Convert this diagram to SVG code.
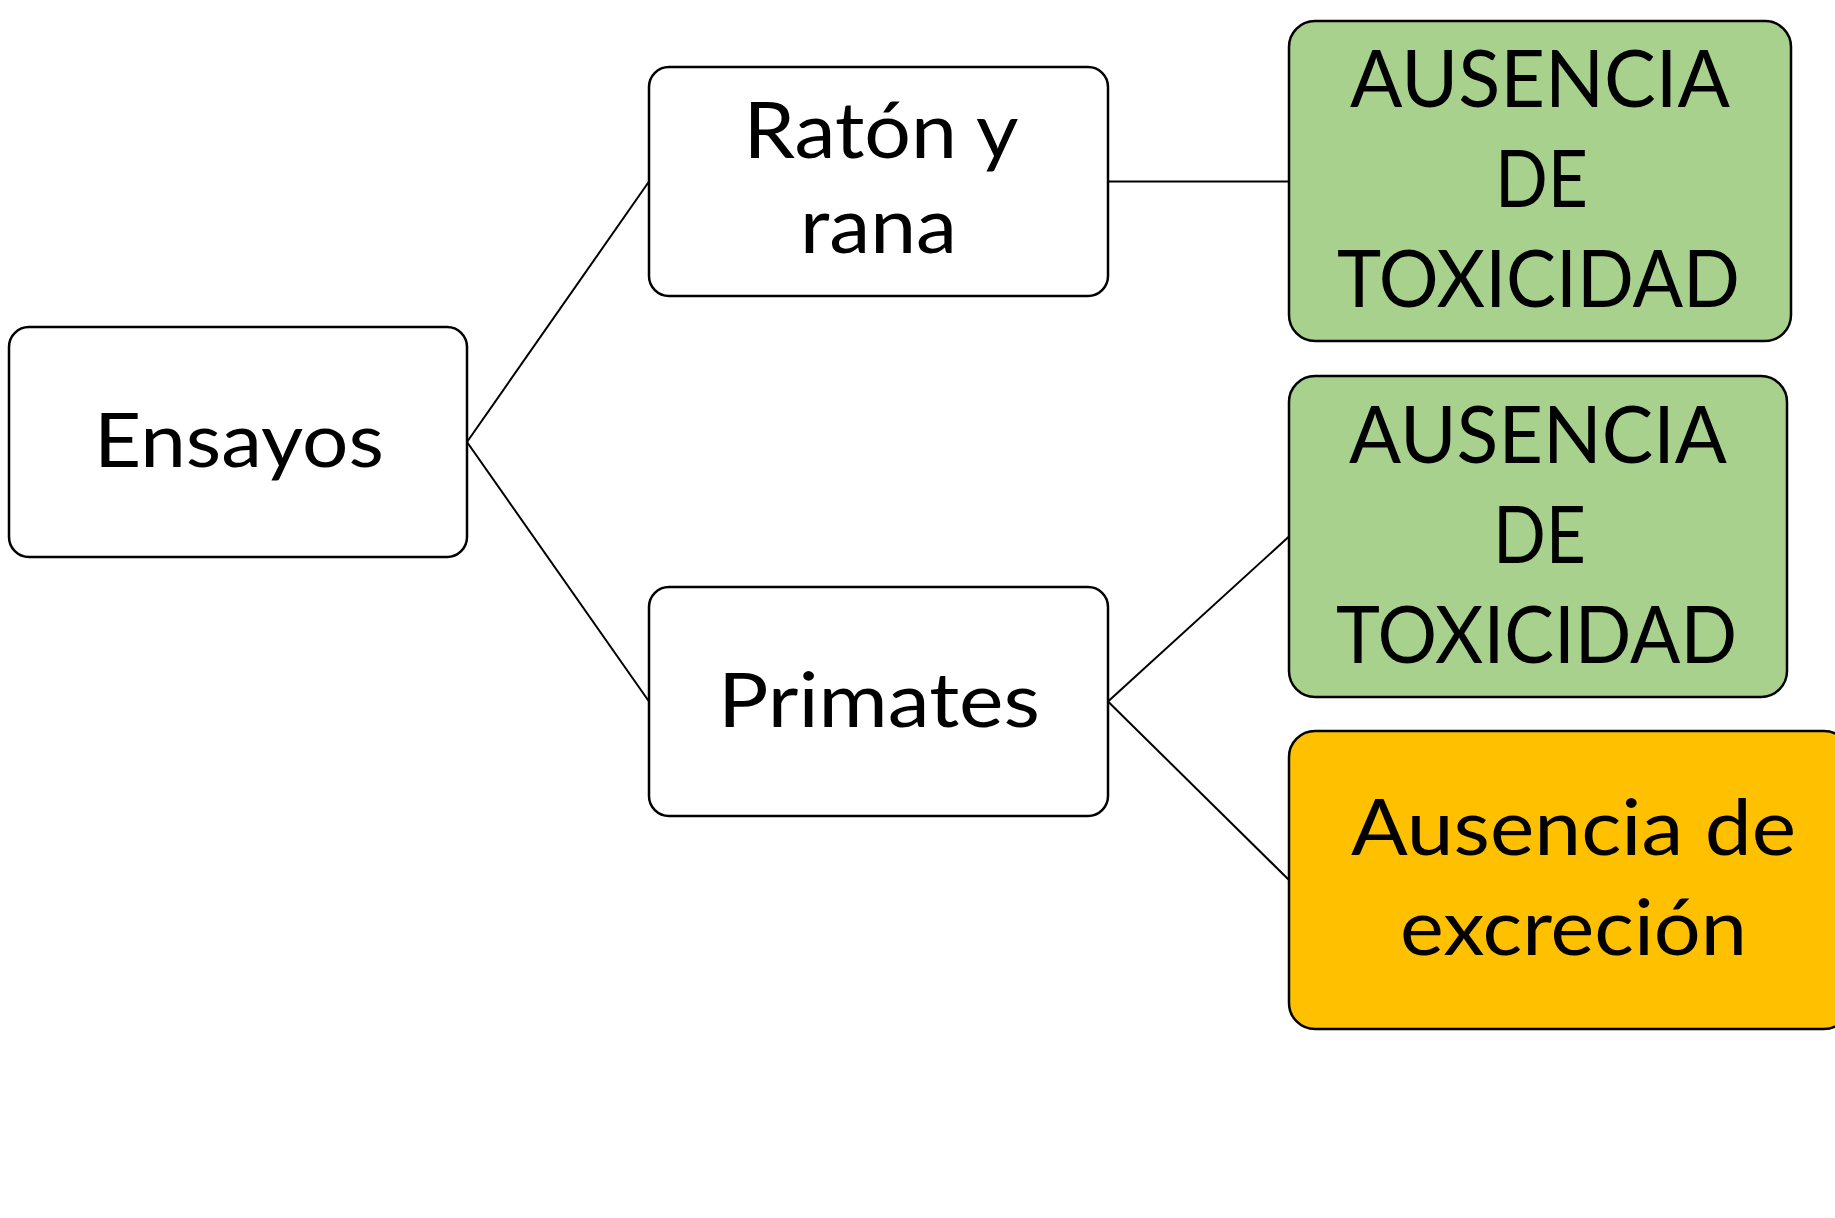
<svg xmlns="http://www.w3.org/2000/svg" width="1835" height="1218" viewBox="0 0 1835 1218">
<style>
.box{stroke:#000;stroke-width:2.5}
.w{fill:#fff}
.g{fill:#A9D18E}
.o{fill:#FFC000}
.t{font-family:Lato,"Open Sans","Liberation Sans",sans-serif;fill:#000;text-anchor:middle}
.c{stroke:#000;stroke-width:2;fill:none}
</style>
<rect width="1835" height="1218" fill="#fff"/>
<g id="connectors">
<line class="c" x1="467" y1="442" x2="649" y2="181.5"/>
<line class="c" x1="467" y1="442" x2="649" y2="701.5"/>
<line class="c" x1="1108" y1="181.5" x2="1289" y2="181.5"/>
<line class="c" x1="1108" y1="701.5" x2="1289" y2="536.5"/>
<line class="c" x1="1108" y1="701.5" x2="1289" y2="880"/>
</g>
<g id="ensayos">
<rect class="box w" x="9" y="327" width="458" height="230" rx="20"/>
<text class="t" x="239" y="467" font-size="76" textLength="290" lengthAdjust="spacingAndGlyphs">Ensayos</text>
</g>
<g id="raton">
<rect class="box w" x="649" y="67" width="459" height="229" rx="20"/>
<text class="t" x="881" y="158" font-size="78" textLength="275" lengthAdjust="spacingAndGlyphs">Ratón y</text>
<text class="t" x="878.5" y="253" font-size="78" textLength="157" lengthAdjust="spacingAndGlyphs">rana</text>
</g>
<g id="primates">
<rect class="box w" x="649" y="587" width="459" height="229" rx="20"/>
<text class="t" x="879" y="727" font-size="76" textLength="322" lengthAdjust="spacingAndGlyphs">Primates</text>
</g>
<g id="toxicidad1">
<rect class="box g" x="1289" y="21" width="502" height="320" rx="26"/>
<text class="t" x="1540" y="107" font-size="80" textLength="380" lengthAdjust="spacingAndGlyphs">AUSENCIA</text>
<text class="t" x="1541.5" y="207" font-size="80" textLength="93" lengthAdjust="spacingAndGlyphs">DE</text>
<text class="t" x="1538.5" y="307" font-size="80" textLength="403" lengthAdjust="spacingAndGlyphs">TOXICIDAD</text>
</g>
<g id="toxicidad2">
<rect class="box g" x="1289" y="376" width="498" height="321" rx="26"/>
<text class="t" x="1538" y="462.5" font-size="80" textLength="378" lengthAdjust="spacingAndGlyphs">AUSENCIA</text>
<text class="t" x="1539.5" y="562.5" font-size="80" textLength="93" lengthAdjust="spacingAndGlyphs">DE</text>
<text class="t" x="1536.5" y="662.5" font-size="80" textLength="401" lengthAdjust="spacingAndGlyphs">TOXICIDAD</text>
</g>
<g id="excrecion">
<rect class="box o" x="1289" y="731" width="561" height="298" rx="26"/>
<text class="t" x="1573.5" y="855" font-size="78" textLength="445" lengthAdjust="spacingAndGlyphs">Ausencia de</text>
<text class="t" x="1573.5" y="955" font-size="78" textLength="347" lengthAdjust="spacingAndGlyphs">excreción</text>
</g>
</svg>
